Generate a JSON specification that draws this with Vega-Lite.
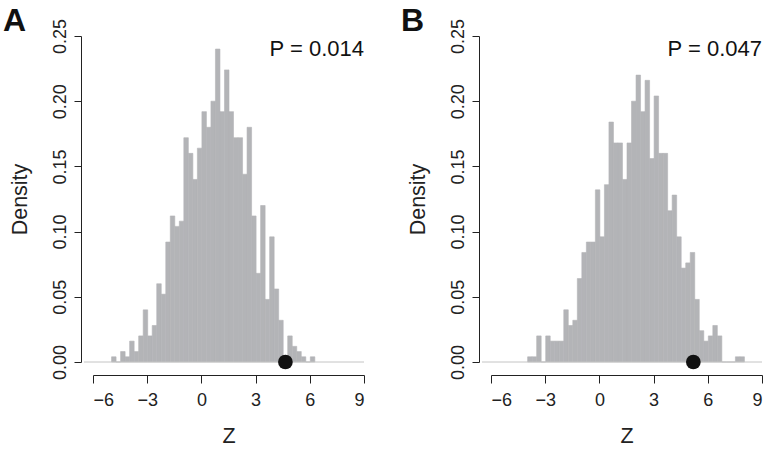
{
  "$schema": "https://vega.github.io/schema/vega-lite/v6.json",
  "background": "white",
  "padding": {"left": 3, "top": 5, "right": 5, "bottom": 2},
  "datasets": {
    "A": [
      {"lo": -5, "hi": -4.75, "density": 0.004},
      {"lo": -4.75, "hi": -4.5, "density": 0},
      {"lo": -4.5, "hi": -4.25, "density": 0.008},
      {"lo": -4.25, "hi": -4, "density": 0.004},
      {"lo": -4, "hi": -3.75, "density": 0.016},
      {"lo": -3.75, "hi": -3.5, "density": 0.008},
      {"lo": -3.5, "hi": -3.25, "density": 0.02},
      {"lo": -3.25, "hi": -3, "density": 0.04},
      {"lo": -3, "hi": -2.75, "density": 0.02},
      {"lo": -2.75, "hi": -2.5, "density": 0.028},
      {"lo": -2.5, "hi": -2.25, "density": 0.06},
      {"lo": -2.25, "hi": -2, "density": 0.052},
      {"lo": -2, "hi": -1.75, "density": 0.092},
      {"lo": -1.75, "hi": -1.5, "density": 0.112},
      {"lo": -1.5, "hi": -1.25, "density": 0.104},
      {"lo": -1.25, "hi": -1, "density": 0.108},
      {"lo": -1, "hi": -0.75, "density": 0.172},
      {"lo": -0.75, "hi": -0.5, "density": 0.16},
      {"lo": -0.5, "hi": -0.25, "density": 0.14},
      {"lo": -0.25, "hi": 0, "density": 0.164},
      {"lo": 0, "hi": 0.25, "density": 0.192},
      {"lo": 0.25, "hi": 0.5, "density": 0.18},
      {"lo": 0.5, "hi": 0.75, "density": 0.2},
      {"lo": 0.75, "hi": 1, "density": 0.24},
      {"lo": 1, "hi": 1.25, "density": 0.192},
      {"lo": 1.25, "hi": 1.5, "density": 0.224},
      {"lo": 1.5, "hi": 1.75, "density": 0.192},
      {"lo": 1.75, "hi": 2, "density": 0.172},
      {"lo": 2, "hi": 2.25, "density": 0.172},
      {"lo": 2.25, "hi": 2.5, "density": 0.144},
      {"lo": 2.5, "hi": 2.75, "density": 0.18},
      {"lo": 2.75, "hi": 3, "density": 0.112},
      {"lo": 3, "hi": 3.25, "density": 0.068},
      {"lo": 3.25, "hi": 3.5, "density": 0.12},
      {"lo": 3.5, "hi": 3.75, "density": 0.048},
      {"lo": 3.75, "hi": 4, "density": 0.096},
      {"lo": 4, "hi": 4.25, "density": 0.056},
      {"lo": 4.25, "hi": 4.5, "density": 0.032},
      {"lo": 4.5, "hi": 4.75, "density": 0},
      {"lo": 4.75, "hi": 5, "density": 0.02},
      {"lo": 5, "hi": 5.25, "density": 0.012},
      {"lo": 5.25, "hi": 5.5, "density": 0.008},
      {"lo": 5.5, "hi": 5.75, "density": 0.004},
      {"lo": 5.75, "hi": 6, "density": 0},
      {"lo": 6, "hi": 6.25, "density": 0.004}
    ],
    "B": [
      {"lo": -4, "hi": -3.75, "density": 0.004},
      {"lo": -3.75, "hi": -3.5, "density": 0.004},
      {"lo": -3.5, "hi": -3.25, "density": 0.02},
      {"lo": -3.25, "hi": -3, "density": 0},
      {"lo": -3, "hi": -2.75, "density": 0.02},
      {"lo": -2.75, "hi": -2.5, "density": 0.016},
      {"lo": -2.5, "hi": -2.25, "density": 0.016},
      {"lo": -2.25, "hi": -2, "density": 0.016},
      {"lo": -2, "hi": -1.75, "density": 0.04},
      {"lo": -1.75, "hi": -1.5, "density": 0.028},
      {"lo": -1.5, "hi": -1.25, "density": 0.032},
      {"lo": -1.25, "hi": -1, "density": 0.064},
      {"lo": -1, "hi": -0.75, "density": 0.084},
      {"lo": -0.75, "hi": -0.5, "density": 0.092},
      {"lo": -0.5, "hi": -0.25, "density": 0.092},
      {"lo": -0.25, "hi": 0, "density": 0.132},
      {"lo": 0, "hi": 0.25, "density": 0.096},
      {"lo": 0.25, "hi": 0.5, "density": 0.136},
      {"lo": 0.5, "hi": 0.75, "density": 0.184},
      {"lo": 0.75, "hi": 1, "density": 0.168},
      {"lo": 1, "hi": 1.25, "density": 0.168},
      {"lo": 1.25, "hi": 1.5, "density": 0.14},
      {"lo": 1.5, "hi": 1.75, "density": 0.168},
      {"lo": 1.75, "hi": 2, "density": 0.2},
      {"lo": 2, "hi": 2.25, "density": 0.22},
      {"lo": 2.25, "hi": 2.5, "density": 0.192},
      {"lo": 2.5, "hi": 2.75, "density": 0.216},
      {"lo": 2.75, "hi": 3, "density": 0.156},
      {"lo": 3, "hi": 3.25, "density": 0.204},
      {"lo": 3.25, "hi": 3.5, "density": 0.16},
      {"lo": 3.5, "hi": 3.75, "density": 0.16},
      {"lo": 3.75, "hi": 4, "density": 0.116},
      {"lo": 4, "hi": 4.25, "density": 0.128},
      {"lo": 4.25, "hi": 4.5, "density": 0.096},
      {"lo": 4.5, "hi": 4.75, "density": 0.072},
      {"lo": 4.75, "hi": 5, "density": 0.076},
      {"lo": 5, "hi": 5.25, "density": 0.084},
      {"lo": 5.25, "hi": 5.5, "density": 0.048},
      {"lo": 5.5, "hi": 5.75, "density": 0.024},
      {"lo": 5.75, "hi": 6, "density": 0.016},
      {"lo": 6, "hi": 6.25, "density": 0.02},
      {"lo": 6.25, "hi": 6.5, "density": 0.028},
      {"lo": 6.5, "hi": 6.75, "density": 0.02},
      {"lo": 6.75, "hi": 7, "density": 0},
      {"lo": 7, "hi": 7.25, "density": 0},
      {"lo": 7.25, "hi": 7.5, "density": 0},
      {"lo": 7.5, "hi": 7.75, "density": 0.004},
      {"lo": 7.75, "hi": 8, "density": 0.004}
    ]
  },
  "hconcat": [
    {
      "width": 271,
      "height": 326,
      "title": {"text": "A", "anchor": "start", "frame": "group", "dx": -90, "offset": -33, "dy": 12, "baseline": "alphabetic", "fontSize": 32, "fontWeight": "bold", "font": "Liberation Sans", "color": "#111"},
      "layer": [
        {
          "data": {"name": "A"},
          "mark": {"type": "bar", "color": "#b3b4b7", "stroke": "#b3b4b7", "strokeWidth": 0.6, "binSpacing": 0},
          "encoding": {
            "x": {"field": "lo", "type": "quantitative", "bin": "binned", "scale": {"domain": [-6, 9], "nice": false, "zero": false},
                  "axis": {"values": [-6, -3, 0, 3, 6, 9], "title": "Z", "offset": 13, "tickSize": 8, "labelPadding": 8, "titlePadding": 16}},
            "x2": {"field": "hi"},
            "y": {"field": "density", "type": "quantitative", "scale": {"domain": [0, 0.25], "nice": false},
                  "axis": {"values": [0, 0.05, 0.1, 0.15, 0.2, 0.25], "format": ".2f", "labelAngle": -90, "title": "Density", "offset": 12, "tickSize": 7, "labelPadding": 5, "titlePadding": 20}}
          }
        },
        {
          "data": {"values": [{}]},
          "mark": {"type": "rule", "color": "#c4c4c4", "strokeWidth": 1},
          "encoding": {"x": {"datum": -6.5}, "x2": {"datum": 9}, "y": {"datum": 0}}
        },
        {
          "data": {"values": [{}]},
          "mark": {"type": "point", "filled": true, "color": "#111111", "size": 215, "opacity": 1},
          "encoding": {"x": {"datum": 4.65}, "y": {"datum": 0}}
        },
        {
          "data": {"values": [{}]},
          "mark": {"type": "text", "text": "P = 0.014", "align": "right", "baseline": "alphabetic", "fontSize": 22, "color": "#111"},
          "encoding": {"x": {"datum": 9}, "y": {"datum": 0.235}}
        }
      ]
    },
    {
      "width": 271,
      "height": 326,
      "title": {"text": "B", "anchor": "start", "frame": "group", "dx": -90, "offset": -33, "dy": 12, "baseline": "alphabetic", "fontSize": 32, "fontWeight": "bold", "font": "Liberation Sans", "color": "#111"},
      "layer": [
        {
          "data": {"name": "B"},
          "mark": {"type": "bar", "color": "#b3b4b7", "stroke": "#b3b4b7", "strokeWidth": 0.6, "binSpacing": 0},
          "encoding": {
            "x": {"field": "lo", "type": "quantitative", "bin": "binned", "scale": {"domain": [-6, 9], "nice": false, "zero": false},
                  "axis": {"values": [-6, -3, 0, 3, 6, 9], "title": "Z", "offset": 13, "tickSize": 8, "labelPadding": 8, "titlePadding": 16}},
            "x2": {"field": "hi"},
            "y": {"field": "density", "type": "quantitative", "scale": {"domain": [0, 0.25], "nice": false},
                  "axis": {"values": [0, 0.05, 0.1, 0.15, 0.2, 0.25], "format": ".2f", "labelAngle": -90, "title": "Density", "offset": 12, "tickSize": 7, "labelPadding": 5, "titlePadding": 20}}
          }
        },
        {
          "data": {"values": [{}]},
          "mark": {"type": "rule", "color": "#c4c4c4", "strokeWidth": 1},
          "encoding": {"x": {"datum": -6.5}, "x2": {"datum": 9}, "y": {"datum": 0}}
        },
        {
          "data": {"values": [{}]},
          "mark": {"type": "point", "filled": true, "color": "#111111", "size": 215, "opacity": 1},
          "encoding": {"x": {"datum": 5.2}, "y": {"datum": 0}}
        },
        {
          "data": {"values": [{}]},
          "mark": {"type": "text", "text": "P = 0.047", "align": "right", "baseline": "alphabetic", "fontSize": 22, "color": "#111"},
          "encoding": {"x": {"datum": 9}, "y": {"datum": 0.235}}
        }
      ]
    }
  ],
  "spacing": 127,
  "bounds": "flush",
  "config": {
    "view": {"stroke": null},
    "font": "Liberation Sans",
    "axis": {"grid": false, "domainColor": "#222", "tickColor": "#222", "labelColor": "#222", "titleColor": "#222", "labelFontSize": 18, "titleFontSize": 21.5, "titleFontWeight": "normal", "labelFont": "Liberation Sans", "titleFont": "Liberation Sans"}
  }
}
